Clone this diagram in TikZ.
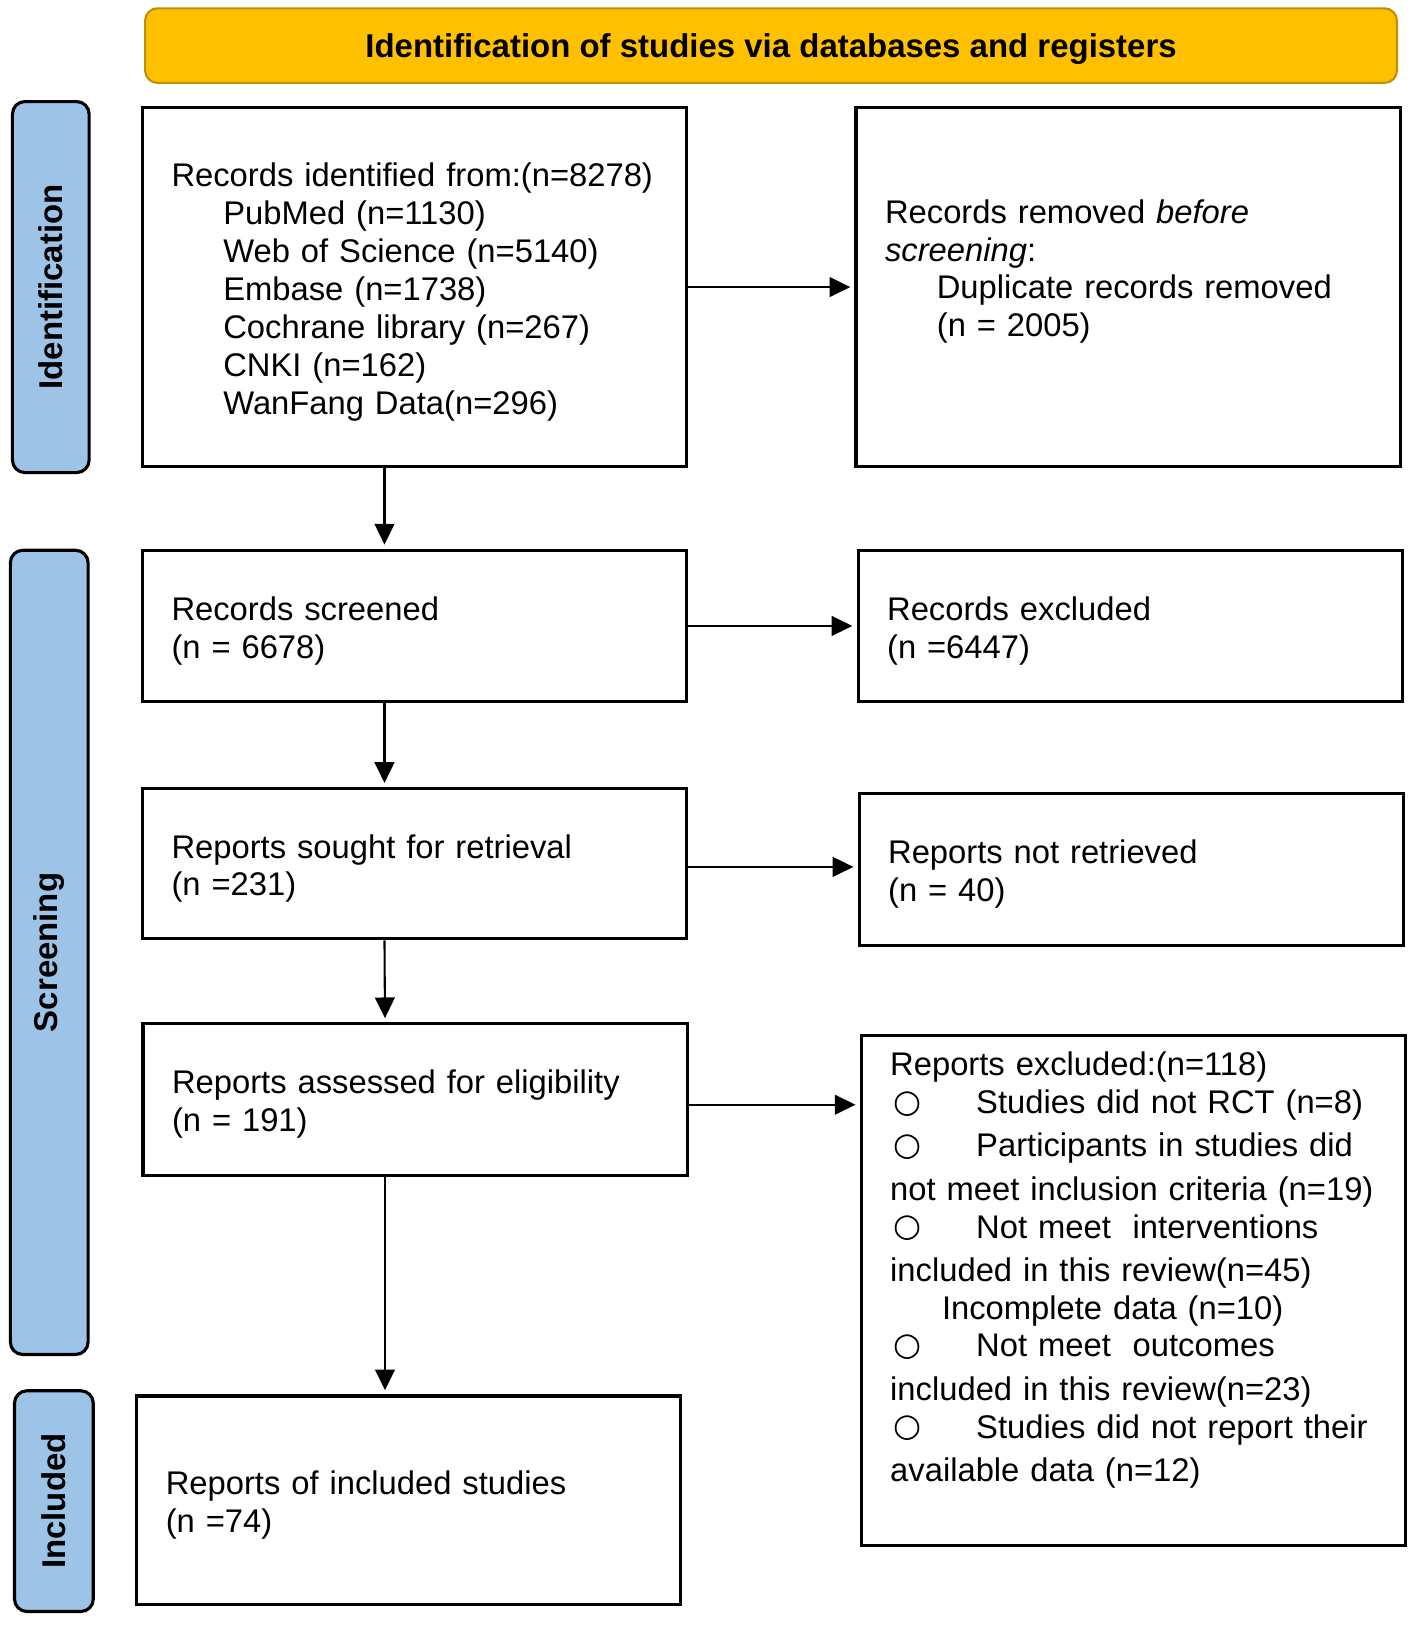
\documentclass[tikz,border=0pt]{standalone}
\usepackage{fontspec}
\setmainfont{Liberation Sans}
\newfontfamily\symfont{DejaVu Sans}
\usepackage{tikz}
\usetikzlibrary{arrows.meta}
\definecolor{BannerGold}{HTML}{FFC000}
\definecolor{BannerEdge}{HTML}{BF9000}
\definecolor{PhaseBlue}{HTML}{9DC3E6}
\definecolor{Ink}{HTML}{000000}
\newcommand{\bodyfont}{\fontsize{15.8}{18.3}\selectfont}
\newcommand{\headfont}{\bfseries\fontsize{15.9}{18}\selectfont}
\newcommand{\circitem}{\makebox[41.5pt][l]{\hspace{1.5pt}\raisebox{0.5pt}{\symfont\fontsize{15.5}{15.5}\selectfont ○}}}
\tikzset{
  banner/.style={draw=BannerEdge, fill=BannerGold, line width=1pt, rounded corners=6pt, minimum width=604pt, minimum height=36pt, text depth=0pt, font=\headfont},
  phase/.style={draw=Ink, fill=PhaseBlue, line width=1.5pt, rounded corners=6pt, rotate=90, font=\headfont},
  box/.style={draw=Ink, line width=1.5pt, text width=234.5pt, inner xsep=14pt, align=left, font=\bodyfont,
    execute at begin node={\rule{0pt}{16pt}}},
  flow/.style={-{Triangle[length=10pt, width=9.5pt]}, line width=1pt, color=Ink, shorten >=2pt},
}

\begin{document}
\begin{tikzpicture}[x=0.5pt, y=-0.5pt]
  \useasboundingbox (0,0) rectangle (1367,1569);

  % Header
  \node[banner] (head) at (744,44) {Identification of studies via databases and registers};

  % Phase labels
  \node[phase, minimum width=179pt, minimum height=37pt] (phaseid) at (49,277) {Identification};
  \node[phase, minimum width=388pt, minimum height=37.5pt] (phasescr) at (47.5,919) {Screening};
  \node[phase, minimum width=106.5pt, minimum height=38pt] (phaseinc) at (52,1448.5) {Included};

  % Left column
  \node[box, minimum height=173pt] (ident) at (400,277) {Records identified from:(n=8278)\\
    \hspace*{25pt}PubMed (n=1130)\\
    \hspace*{25pt}Web of Science (n=5140)\\
    \hspace*{25pt}Embase (n=1738)\\
    \hspace*{25pt}Cochrane library (n=267)\\
    \hspace*{25pt}CNKI (n=162)\\
    \hspace*{25pt}WanFang Data(n=296)};
  \node[box, minimum height=73pt] (screened) at (400,604) {Records screened\\(n = 6678)};
  \node[box, minimum height=72.5pt] (sought) at (400,833.5) {Reports sought for retrieval\\(n =231)};
  \node[box, minimum height=73pt] (assessed) at (400.5,1061) {Reports assessed for eligibility\\(n = 191)};
  \node[box, minimum height=100.5pt] (included) at (394.5,1447.5) {Reports of included studies\\(n =74)};

  % Right column
  \node[box, minimum height=173pt] (removed) at (1088.5,277) {Records removed \textit{before}\\
    \textit{screening}:\\
    \hspace*{25pt}Duplicate records removed\\
    \hspace*{25pt}(n = 2005)\\[4.5pt] \mbox{}};
  \node[box, minimum height=73pt] (excluded) at (1090.5,604) {Records excluded\\(n =6447)};
  \node[box, minimum height=73pt] (notret) at (1091.5,839) {Reports not retrieved\\(n = 40)};
  \node[box, minimum height=245.5pt] (repexcl) at (1093.5,1245.5) {Reports excluded:(n=118)\\
    \circitem Studies did not RCT (n=8)\\[2.5pt]
    \circitem Participants in studies did\\[2.5pt]
    not meet inclusion criteria (n=19)\\
    \circitem Not meet\ \ interventions\\[2.5pt]
    included in this review(n=45)\\
    \hspace*{25pt}Incomplete data (n=10)\\
    \circitem Not meet\ \ outcomes\\[2.5pt]
    included in this review(n=23)\\
    \circitem Studies did not report their\\[2.5pt]
    available data (n=12)\\[9.5pt] \mbox{}};

  % Downward flow
  \draw[flow] ([xshift=-14.5pt]ident.south) -- ([xshift=-14.5pt]screened.north);
  \draw[flow] ([xshift=-14.5pt]screened.south) -- ([xshift=-14.5pt]sought.north);
  \draw[flow] ([xshift=-14.5pt]sought.south) -- ([xshift=-14.5pt]assessed.north);
  \draw[flow] ([xshift=-14.5pt]assessed.south) -- ([xshift=-14.5pt]assessed.south |- included.north);

  % Side exits
  \draw[flow] (ident.east) -- (removed.west);
  \draw[flow] (screened.east) -- (excluded.west);
  \draw[flow] ([yshift=-1.5pt]sought.east) -- ([yshift=-1.5pt]sought.east -| notret.west);
  \draw[flow] ([yshift=-2.5pt]assessed.east) -- ([yshift=-2.5pt]assessed.east -| repexcl.west);
\end{tikzpicture}
\end{document}
